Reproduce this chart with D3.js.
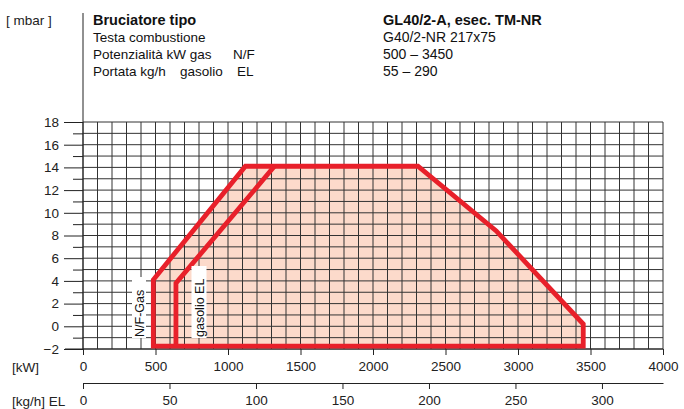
<!DOCTYPE html>
<html>
<head>
<meta charset="utf-8">
<script src="https://cdn.jsdelivr.net/npm/d3@7"></script>
<style>
  body { margin: 0; background: #fff; }
  svg { display: block; font-family: "Liberation Sans", Arial, sans-serif; }
</style>
</head>
<body>
<svg width="684" height="409"></svg>
<script>
// data
var kwTicks = [0, 500, 1000, 1500, 2000, 2500, 3000, 3500, 4000];
var kghTicks = [0, 50, 100, 150, 200, 250, 300];
var mbarTicks = [-2, 0, 2, 4, 6, 8, 10, 12, 14, 16, 18];
var mbarMinor = [-1, 1, 3, 5, 7, 9, 11, 13, 15, 17];
// working field N/F gas  [kW, mbar]
var gasField = [[485, -1.75], [485, 4.1], [1120, 14.1], [2310, 14.1], [2850, 8.4], [3450, 0.2], [3450, -1.75]];
// gasolio EL left boundary [kW, mbar]
var elField = [[641, -1.75], [641, 3.8], [1320, 14.1]];
var headLeft = ["Bruciatore tipo", "Testa combustione", "Potenzialità kW gas", "Portata kg/h"];
var headMid = [["", 0], ["", 0], ["N/F", 233], ["gasolio", 180], ["EL", 237]];
var headRight = ["GL40/2-A, esec. TM-NR", "G40/2-NR 217x75", "500 – 3450", "55 – 290"];
var kwPerKg = 11.93;

var svg = d3.select("svg");

var x = d3.scaleLinear().domain([0, 4000]).range([83, 663]);
var y = d3.scaleLinear().domain([-2, 18]).range([349, 122]);
var xKg = d3.scaleLinear().domain([0, 4000 / kwPerKg]).range([83, 663]);

var line = d3.line().x(function(d) { return x(d[0]); }).y(function(d) { return y(d[1]); });

// fill of the field
svg.append("path")
  .attr("d", line(gasField) + "Z")
  .attr("fill", "#fcdacb");

// grid
var grid = svg.append("g").attr("stroke", "#333").attr("stroke-width", 1);
grid.selectAll("line.v")
  .data(d3.range(0, 4001, 100))
  .enter().append("line")
    .attr("x1", function(d) { return x(d); })
    .attr("x2", function(d) { return x(d); })
    .attr("y1", y(18))
    .attr("y2", y(-2));
grid.selectAll("line.h")
  .data(d3.range(-2, 19, 1))
  .enter().append("line")
    .attr("x1", x(0))
    .attr("x2", x(4000))
    .attr("y1", function(d) { return y(d); })
    .attr("y2", function(d) { return y(d); });

// y axis line going up to the header
svg.append("line")
  .attr("x1", x(0)).attr("x2", x(0))
  .attr("y1", 13).attr("y2", y(-2))
  .attr("stroke", "#222");
svg.append("line")
  .attr("x1", 65).attr("x2", x(4000))
  .attr("y1", y(-2)).attr("y2", y(-2))
  .attr("stroke", "#222");

// red boundaries
svg.append("path")
  .attr("d", line(gasField) + "Z")
  .attr("fill", "none")
  .attr("stroke", "#e8202a")
  .attr("stroke-width", 4.8)
  .attr("stroke-linejoin", "miter");
svg.append("path")
  .attr("d", line(elField))
  .attr("fill", "none")
  .attr("stroke", "#e8202a")
  .attr("stroke-width", 4.8)
  .attr("stroke-linejoin", "miter");

// y axis ticks
var yAx = svg.append("g")
  .attr("transform", "translate(" + x(0) + ",0)")
  .call(d3.axisLeft(y).tickValues(mbarTicks).tickSize(19).tickPadding(5));
yAx.select(".domain").remove();
var yMinor = svg.append("g")
  .attr("transform", "translate(" + x(0) + ",0)")
  .call(d3.axisLeft(y).tickValues(mbarMinor).tickSize(10).tickFormat(""));
yMinor.select(".domain").remove();

// kW axis
var xAx = svg.append("g")
  .attr("transform", "translate(0," + y(-2) + ")")
  .call(d3.axisBottom(x).tickValues(kwTicks).tickFormat(d3.format("d")).tickSize(6).tickPadding(6));
xAx.select(".domain").remove();

// kg/h axis
var kgAx = svg.append("g")
  .attr("transform", "translate(0,383)")
  .call(d3.axisBottom(xKg).tickValues(kghTicks).tickFormat(d3.format("d")).tickSize(6).tickSizeOuter(0).tickPadding(6));
kgAx.select(".domain").attr("stroke", "#222");

svg.selectAll(".tick text").attr("font-size", 13.5).attr("fill", "#222")
  .attr("font-family", "'Liberation Sans', Arial, sans-serif");
svg.selectAll(".tick line").attr("stroke", "#222");

// axis unit labels
svg.append("text").attr("x", 12).attr("y", 372).attr("font-size", 13.5).attr("fill", "#222").text("[kW]");
svg.append("text").attr("x", 12).attr("y", 406).attr("font-size", 13.5).attr("fill", "#222").text("[kg/h] EL");
svg.append("text").attr("x", 6).attr("y", 25).attr("font-size", 13.5).attr("fill", "#222").text("[ mbar ]");

// header block
var head = svg.append("g").attr("font-size", 13.5).attr("fill", "#111");
head.selectAll("text.l")
  .data(headLeft)
  .enter().append("text")
    .attr("x", 93)
    .attr("y", function(d, i) { return 25 + i * 17; })
    .attr("font-weight", function(d, i) { return i === 0 ? "bold" : "normal"; })
    .attr("font-size", function(d, i) { return i === 0 ? 14.5 : 13.5; })
    .text(function(d) { return d; });
head.selectAll("text.m")
  .data(headMid)
  .enter().append("text")
    .attr("x", function(d) { return d[1]; })
    .attr("y", function(d, i) { return 25 + Math.min(i, 3) * 17; })
    .text(function(d) { return d[0]; });
head.selectAll("text.r")
  .data(headRight)
  .enter().append("text")
    .attr("x", 383)
    .attr("y", function(d, i) { return 25 + i * 17; })
    .attr("font-weight", function(d, i) { return i === 0 ? "bold" : "normal"; })
    .attr("font-size", function(d, i) { return i === 0 ? 14.5 : 14; })
    .text(function(d) { return d; });

// rotated labels with white boxes
function vLabel(cx, yBottom, boxTop, w, txt) {
  svg.append("rect")
    .attr("x", cx - w / 2).attr("y", boxTop)
    .attr("width", w).attr("height", y(-2) - 11 - boxTop)
    .attr("fill", "#fff");
  svg.append("text")
    .attr("transform", "translate(" + (cx + 4.5) + "," + yBottom + ") rotate(-90)")
    .attr("font-size", 12.5)
    .attr("fill", "#111")
    .text(txt);
}
vLabel(139, 337, 277, 14, "N/F-Gas");
vLabel(199, 337, 266, 15, "gasolio EL");
</script>
</body>
</html>
